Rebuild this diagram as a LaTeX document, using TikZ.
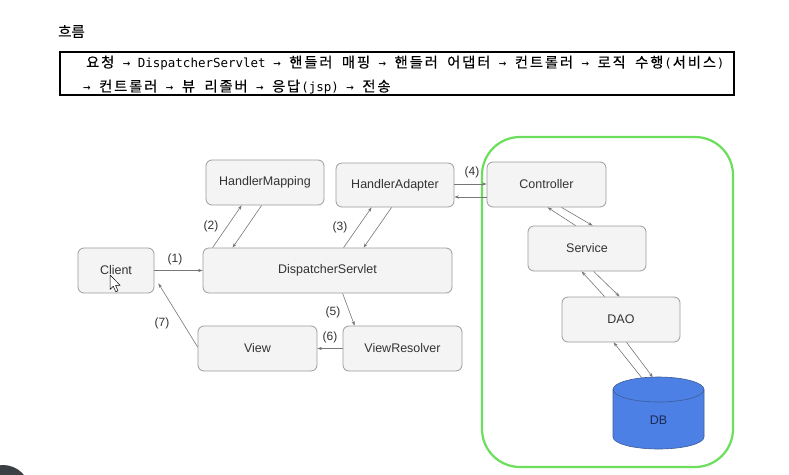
\documentclass[tikz,border=0pt]{standalone}
\usepackage{fontspec}
\setmainfont{Liberation Sans}
\newfontfamily\krfont{Noto Sans CJK KR}[FakeBold=0.3]
\newfontfamily\mymonofont{DejaVu Sans Mono}
\newcommand\KR{\krfont\fontsize{14.3pt}{18pt}\selectfont}
\newcommand\MN{\mymonofont\fontsize{12.5pt}{18pt}\selectfont}
\newcommand\HC[1]{\makebox[15.04pt][c]{\KR#1}}
\newcommand\LC[1]{\makebox[7.52pt][c]{\MN#1}}
\newcommand\SP{\hspace*{7.52pt}}
\usetikzlibrary{arrows.meta,calc}
\definecolor{boxfill}{HTML}{F4F4F4}
\definecolor{boxdraw}{HTML}{9C9C9C}
\definecolor{txt}{HTML}{333333}
\definecolor{arr}{HTML}{777777}
\definecolor{grn}{HTML}{6BDF5C}
\definecolor{dbblue}{HTML}{4C80E4}
\definecolor{dbedge}{HTML}{3E5C96}
\definecolor{dbtxt}{HTML}{1B2A55}
\definecolor{blob}{HTML}{3A3F44}
\begin{document}
\begin{tikzpicture}[x=1pt,y=-1pt,
  comp/.style={draw=boxdraw, fill=boxfill, rounded corners=6pt, line width=0.8pt,
    inner sep=0pt, text=txt, font=\fontsize{12.5pt}{15pt}\selectfont},
  flow/.style={draw=arr, line width=0.6pt, -{Stealth[length=4.5pt,width=3.2pt]}},
  lbl/.style={text=txt, font=\fontsize{12pt}{14pt}\selectfont, inner sep=0pt}]
\useasboundingbox (0,0) rectangle (789,474);
\fill[white] (0,0) rectangle (789,474);

% header
\node[inner sep=0pt, font=\krfont\fontsize{14.5pt}{16pt}\selectfont] (title) at (71.5,31.5) {흐름};
\draw[line width=1.3pt] (60,52) rectangle (734,95);
\node[inner sep=0pt, anchor=base west] (line1) at (85,67.5)
  {\HC{요}\HC{청}\SP\LC{→}\SP{\MN DispatcherServlet}\SP\LC{→}\SP\HC{핸}\HC{들}\HC{러}\SP\HC{매}\HC{핑}\SP\LC{→}\SP\HC{핸}\HC{들}\HC{러}\SP\HC{어}\HC{댑}\HC{터}\SP\LC{→}\SP\HC{컨}\HC{트}\HC{롤}\HC{러}\SP\LC{→}\SP\HC{로}\HC{직}\SP\HC{수}\HC{행}\LC{(}\HC{서}\HC{비}\HC{스}\LC{)}};
\node[inner sep=0pt, anchor=base west] (line2) at (83,91.5)
  {\LC{→}\SP\HC{컨}\HC{트}\HC{롤}\HC{러}\SP\LC{→}\SP\HC{뷰}\SP\HC{리}\HC{졸}\HC{버}\SP\LC{→}\SP\HC{응}\HC{답}\LC{(}\LC{j}\LC{s}\LC{p}\LC{)}\SP\LC{→}\SP\HC{전}\HC{송}};

% green container
\draw[grn, line width=2.2pt, rounded corners=38pt] (482,137) rectangle (733,467);

% components
\node[comp, minimum width=118pt, minimum height=45pt] (hm) at (265,182.5) {HandlerMapping};
\node[comp, minimum width=118pt, minimum height=44pt] (ha) at (395,185) {HandlerAdapter};
\node[comp, minimum width=76pt, minimum height=45pt] (client) at (116,270.5) {Client};
\node[comp, minimum width=249pt, minimum height=45pt] (ds) at (327.5,270.5) {DispatcherServlet};
\node[comp, minimum width=119pt, minimum height=45pt] (view) at (257.5,348.5) {View};
\node[comp, minimum width=119pt, minimum height=45pt] (vr) at (402.5,348.5) {ViewResolver};
\node[comp, minimum width=119pt, minimum height=45pt] (ctrl) at (546.5,184.5) {Controller};
\node[comp, minimum width=118pt, minimum height=45pt] (svc) at (587,248.5) {Service};
\node[comp, minimum width=118pt, minimum height=45pt] (dao) at (621,319.5) {DAO};

% DB cylinder
\node[minimum width=91pt, minimum height=72pt, inner sep=0pt] (db) at (658.5,413) {};
\draw[dbedge, fill=dbblue, line width=0.6pt]
  (613,389.5) -- (613,437) arc[start angle=180, end angle=360, x radius=45.5, y radius=-12] -- (704,389.5)
  arc[start angle=0, end angle=180, x radius=45.5, y radius=-12.5] -- cycle;
\draw[dbedge, line width=0.6pt] (613,389.5) arc[start angle=180, end angle=360, x radius=45.5, y radius=-12.5];
\node[text=dbtxt, font=\fontsize{12.5pt}{15pt}\selectfont, inner sep=0pt] (dblbl) at (658.5,420) {DB};

% connectors
\draw[flow] (client.east) -- (ds.west);
\node[lbl] (l1) at (175,259) {(1)};

\draw[flow] ($(ds.north west)+(10,0)$) -- ($(hm.south west)+(36,0)$);
\draw[flow] ($(hm.south west)+(56,0)$) -- ($(ds.north west)+(30,0)$);
\node[lbl] (l2) at (211,226) {(2)};

\draw[flow] ($(ds.north west)+(141,0)$) -- ($(ha.south west)+(36,0)$);
\draw[flow] ($(ha.south west)+(56,0)$) -- ($(ds.north west)+(161,0)$);
\node[lbl] (l3) at (340,227) {(3)};

\draw[flow] ($(ha.east)+(0,-1)$) -- ($(ctrl.west)+(0,-0.5)$);
\draw[flow] ($(ctrl.west)+(0,12.5)$) -- ($(ha.east)+(0,12)$);
\node[lbl] (l4) at (472,172) {(4)};

\draw[flow] ($(svc.north west)+(48,0)$) -- ($(ctrl.south west)+(61,0)$);
\draw[flow] ($(ctrl.south west)+(75,0)$) -- ($(svc.north west)+(65,0)$);

\draw[flow] ($(dao.north west)+(43,0)$) -- ($(svc.south west)+(54,0)$);
\draw[flow] ($(svc.south west)+(66,0)$) -- ($(dao.north west)+(58,0)$);

\draw[flow] ($(db.north west)+(29,1)$) -- ($(dao.south west)+(52,0)$);
\draw[flow] ($(dao.south west)+(65,0)$) -- ($(db.north west)+(40,0.5)$);

\draw[flow] ($(ds.south west)+(140,0)$) -- ($(vr.north west)+(12,0)$);
\node[lbl] (l5) at (333,312) {(5)};

\draw[flow] (vr.west) -- (view.east);
\node[lbl] (l6) at (330,337) {(6)};

\draw[flow] ($(view.west)+(0,-1.5)$) -- ($(client.south east)+(4,-10)$);
\node[lbl] (l7) at (162,323) {(7)};

% mouse pointer
\draw[black, fill=white, line width=0.5pt, line join=round]
  (110,275) -- (110,289.5) -- (113.3,286.3) -- (115.8,291.8) -- (118,290.8) -- (115.6,285.4) -- (120.2,285.4) -- cycle;

% corner blob
\begin{scope}
\clip (0,0) rectangle (789,474);
\fill[blob] (3,492) circle[radius=27];
\end{scope}
\end{tikzpicture}
\end{document}
